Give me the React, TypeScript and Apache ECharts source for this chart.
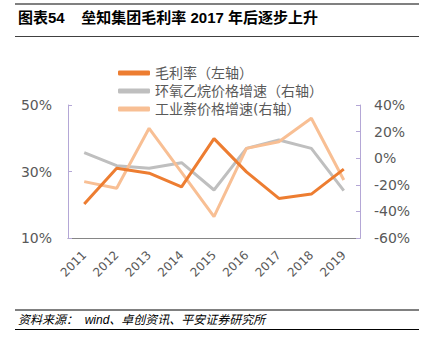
import React, { useEffect, useRef } from "react";
import * as echarts from "echarts";

const years = ["2011", "2012", "2013", "2014", "2015", "2016", "2017", "2018", "2019"];
const grossMargin = [20.2, 31.0, 29.5, 25.4, 39.9, 29.9, 21.9, 23.2, 30.7];
const eoGrowth = [4.2, -5.6, -7.6, -3.4, -23.9, 7.4, 13.7, 7.4, -24.4];
const naphGrowth = [-17.6, -22.6, 22.5, -10.6, -44.0, 7.4, 12.4, 30.0, -16.4];

const names = ["毛利率（左轴）", "环氧乙烷价格增速（右轴）", "工业萘价格增速(右轴）"];
const colors = ["#ED7D31", "#BFBFBF", "#F8BF94"];

export default function App() {
  const ref = useRef<HTMLDivElement>(null);
  useEffect(() => {
    const chart = echarts.init(ref.current!, null, { renderer: "svg" });
    const font = "'DejaVu Sans', 'Noto Sans CJK SC', sans-serif";
    chart.setOption({
      animation: false,
      backgroundColor: "#ffffff",
      textStyle: { fontFamily: font },
      graphic: [
        { type: "line", shape: { x1: 15, y1: 4, x2: 419, y2: 4 }, style: { stroke: "#808080", lineWidth: 2 } },
        {
          type: "text",
          x: 18,
          y: 10,
          style: {
            text: "图表54    垒知集团毛利率 2017 年后逐步上升",
            font: "bold 15px 'Liberation Sans', 'Noto Sans CJK SC', sans-serif",
            fill: "#000000",
          },
        },
        { type: "line", shape: { x1: 15, y1: 36.5, x2: 419, y2: 36.5 }, style: { stroke: "#404040", lineWidth: 1 } },
        { type: "line", shape: { x1: 15, y1: 310, x2: 419, y2: 310 }, style: { stroke: "#808080", lineWidth: 2 } },
        {
          type: "text",
          x: 18,
          y: 314,
          style: {
            text: "资料来源：  wind、卓创资讯、平安证券研究所",
            font: "italic 12px 'Liberation Sans', 'Noto Sans CJK SC', sans-serif",
            fill: "#000000",
          },
        },
        { type: "line", shape: { x1: 15, y1: 329.5, x2: 419, y2: 329.5 }, style: { stroke: "#000000", lineWidth: 1 } },
      ],
      legend: {
        orient: "vertical",
        left: 113,
        top: 61,
        itemWidth: 32,
        itemHeight: 5,
        itemGap: 4,
        icon: "roundRect",
        data: names,
        textStyle: { fontSize: 14, color: "#595959", fontFamily: font },
      },
      grid: { left: 68, right: 73, top: 105, bottom: 114 },
      xAxis: {
        type: "category",
        data: years,
        boundaryGap: true,
        axisLine: { onZero: false, lineStyle: { color: "#868686", width: 1 } },
        axisTick: { inside: true, length: 4, lineStyle: { color: "#868686" } },
        axisLabel: { rotate: 45, fontSize: 12, color: "#595959", margin: 15, fontFamily: font },
      },
      yAxis: [
        {
          type: "value",
          min: 10,
          max: 50,
          interval: 20,
          position: "left",
          splitLine: { show: false },
          axisLine: { show: true, lineStyle: { color: "#B4A7D6" } },
          axisTick: { show: true, inside: true, length: 4, lineStyle: { color: "#B4A7D6" } },
          axisLabel: { formatter: "{value}%", fontSize: 14, color: "#595959", margin: 16, fontFamily: font },
        },
        {
          type: "value",
          min: -60,
          max: 40,
          interval: 20,
          position: "right",
          splitLine: { show: false },
          axisLine: { show: true, lineStyle: { color: "#B4A7D6" } },
          axisTick: { show: true, inside: true, length: 4, lineStyle: { color: "#B4A7D6" } },
          axisLabel: { formatter: "{value}%", fontSize: 14, color: "#595959", margin: 14, fontFamily: font },
        },
      ],
      series: [
        {
          name: names[0],
          type: "line",
          yAxisIndex: 0,
          data: grossMargin,
          showSymbol: false,
          symbol: "none",
          lineStyle: { color: colors[0], width: 3 },
          itemStyle: { color: colors[0] },
          z: 4,
        },
        {
          name: names[1],
          type: "line",
          yAxisIndex: 1,
          data: eoGrowth,
          showSymbol: false,
          symbol: "none",
          lineStyle: { color: colors[1], width: 3 },
          itemStyle: { color: colors[1] },
          z: 2,
        },
        {
          name: names[2],
          type: "line",
          yAxisIndex: 1,
          data: naphGrowth,
          showSymbol: false,
          symbol: "none",
          lineStyle: { color: colors[2], width: 3 },
          itemStyle: { color: colors[2] },
          z: 3,
        },
      ],
    });
    return () => chart.dispose();
  }, []);
  return <div ref={ref} style={{ position: "absolute", left: 0, top: 0, width: 433, height: 352 }} />;
}
